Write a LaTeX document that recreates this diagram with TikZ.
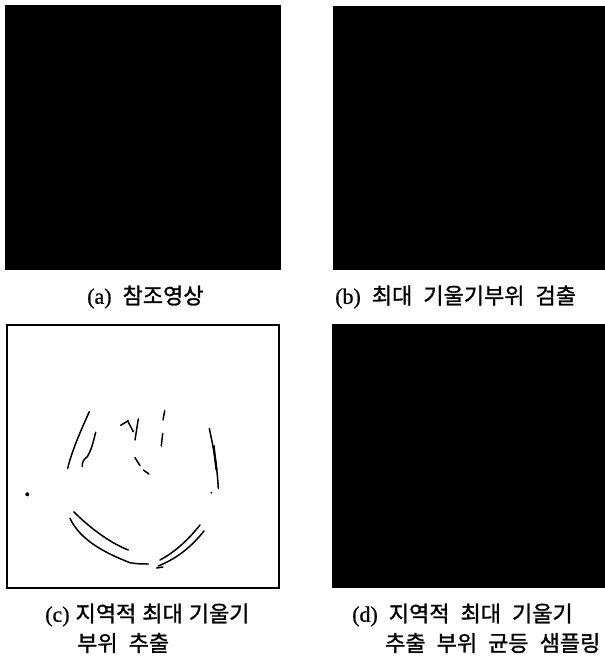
\documentclass[tikz,border=0pt]{standalone}
\usepackage{fontspec}
\setmainfont{Liberation Serif}[FakeBold=0.8]
\newfontfamily\cjk{Noto Sans CJK KR}[FakeBold=1.2]
\newcommand\capfontset{\fontsize{22}{26}\selectfont\spaceskip=11pt plus 0pt\relax}
\tikzset{
  photo/.style={fill=black},
  edgeline/.style={draw=black, line width=1.5pt, line cap=round, line join=round},
  captext/.style={inner sep=0pt, execute at begin node=\capfontset},
}
\begin{document}
\begin{tikzpicture}[x=1pt,y=-1pt]
\useasboundingbox (0,0) rectangle (605,659);
\fill[white] (0,0) rectangle (605,659);
% panels
\fill[photo] (5,5) rectangle (281,270);
\fill[photo] (333,6) rectangle (605,270);
\fill[photo] (332,324) rectangle (605,588);
\draw[line width=1.5pt] (7,325) rectangle (279,588);
% edges in (c)
\draw[edgeline] (89.3,411.7) .. controls (82,428) and (72,450) .. (67.7,468.3);
\draw[edgeline] (95.7,432.3) .. controls (93,443) and (91,451) .. (87.3,456.7) .. controls (84,459) and (82,462) .. (82.3,466.7);
\draw[edgeline] (120.7,425.3) -- (128.3,420.7);
\draw[edgeline] (128.3,422) -- (133.3,431.7);
\draw[edgeline] (138.3,419) -- (135,440);
\draw[edgeline] (164.7,410.7) -- (163,420);
\draw[edgeline] (162.7,433.3) -- (161.3,446);
\draw[edgeline] (135,457.7) -- (140,465.7);
\draw[edgeline] (143.3,470) -- (149,474);
\draw[edgeline] (209.3,428.3) .. controls (212,442) and (217,462) .. (218.3,488.3);
\draw[line width=2.2pt] (213.5,445) -- (216.5,470);
\fill (211.3,492.7) circle (1pt);
\fill (27.3,494.3) circle (2pt);
\draw[edgeline] (70,518.3) .. controls (80,540) and (105,553) .. (130,562.7) .. controls (137,564) and (143,564) .. (148.3,564);
\draw[edgeline] (74,512) .. controls (88,526) and (108,542) .. (128.3,550);
\draw[edgeline] (200,525) .. controls (188,540) and (175,552) .. (160,560);
\draw[edgeline] (204,531) .. controls (192,546) and (178,558) .. (158.3,566);
\draw[edgeline] (156.7,568) -- (163,567);
% captions
\node[captext, anchor=west] (capa) at (87,297) {(a) {\cjk 참조영상}};
\node[captext, anchor=west] (capb) at (335,297) {(b) {\cjk 최대 기울기부위 검출}};
\node[captext, anchor=west] (capc1) at (45,615) {\spaceskip=6pt plus 0pt\relax (c) {\cjk 지역적 최대 기울기}};
\node[captext, anchor=west] (capc2) at (77,643) {{\cjk 부위 추출}};
\node[captext, anchor=west] (capd1) at (352,615) {(d) {\cjk 지역적 최대 기울기}};
\node[captext, anchor=west] (capd2) at (385,643) {{\cjk 추출 부위 균등 샘플링}};
\end{tikzpicture}
\end{document}
